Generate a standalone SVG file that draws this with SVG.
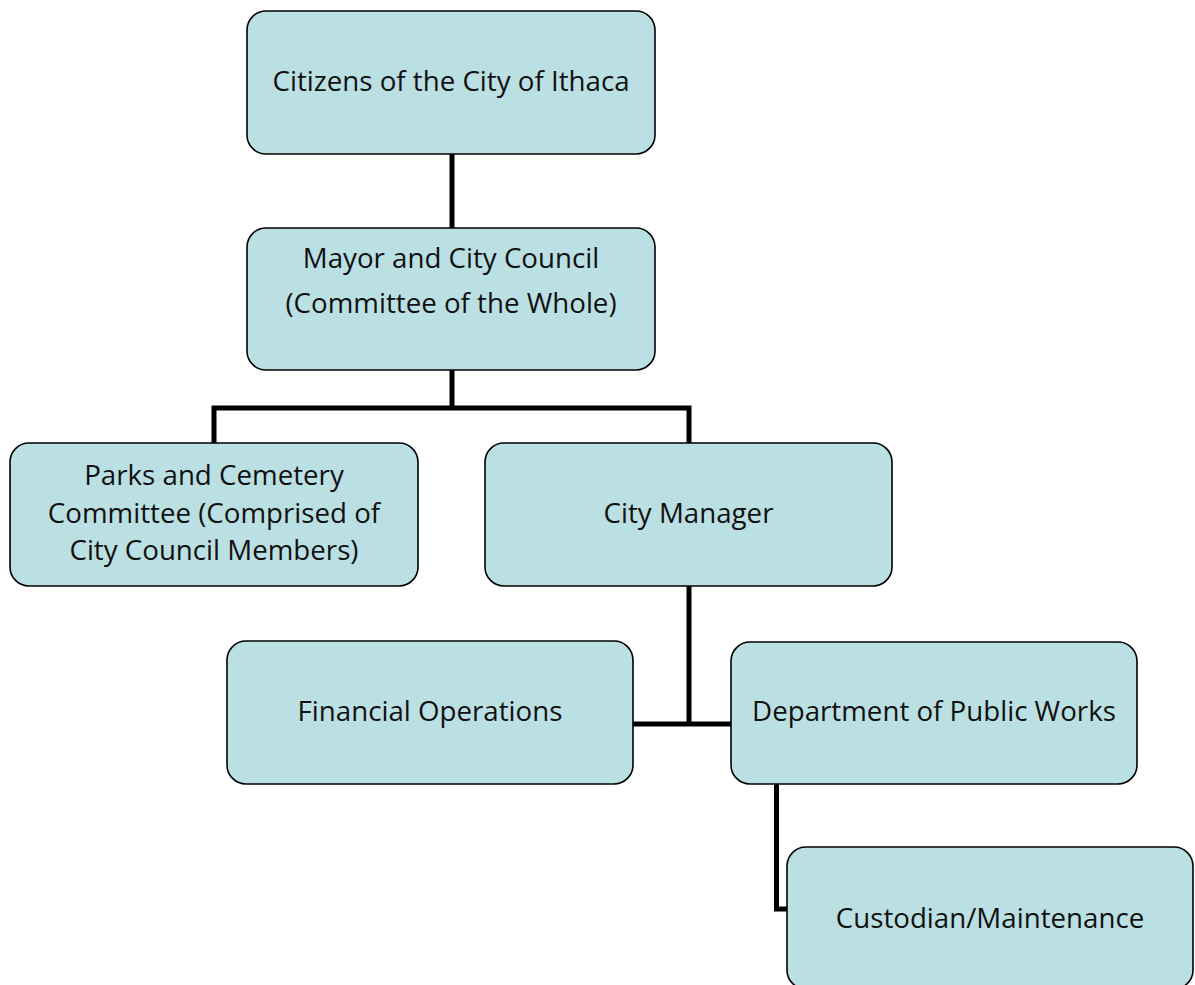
<svg xmlns="http://www.w3.org/2000/svg" width="1195" height="985" viewBox="0 0 1195 985">
<style>
.box{fill:#BBE0E3;stroke:#000;stroke-width:1.6}
.t{font-family:"Open Sans","Noto Sans",sans-serif;font-size:27.7px;fill:#111;text-anchor:middle}
.c{fill:none;stroke:#000;stroke-width:5;stroke-linejoin:miter;stroke-linecap:butt}
</style>
<rect width="1195" height="985" fill="#fff"/>
<g id="connectors">
<path class="c" d="M452 154V228"/>
<path class="c" d="M452 370V408M214 443V408H689V443"/>
<path class="c" d="M689 586V724M633 724H731"/>
<path class="c" d="M776.5 784V909H787"/>
</g>
<g id="citizens">
<rect class="box" x="247" y="11" width="408" height="143" rx="19"/>
<text class="t" x="451" y="91">Citizens of the City of Ithaca</text>
</g>
<g id="mayor">
<rect class="box" x="247" y="228" width="408" height="142" rx="19"/>
<text class="t" x="451" y="268">Mayor and City Council</text>
<text class="t" x="451" y="313">(Committee of the Whole)</text>
</g>
<g id="parks">
<rect class="box" x="10" y="443" width="408" height="143" rx="19"/>
<text class="t" x="214" y="485">Parks and Cemetery</text>
<text class="t" x="214" y="523">Committee (Comprised of</text>
<text class="t" x="214" y="560">City Council Members)</text>
</g>
<g id="city-manager">
<rect class="box" x="485" y="443" width="407" height="143" rx="19"/>
<text class="t" x="688.5" y="523">City Manager</text>
</g>
<g id="financial">
<rect class="box" x="227" y="641" width="406" height="143" rx="19"/>
<text class="t" x="430" y="721">Financial Operations</text>
</g>
<g id="dpw">
<rect class="box" x="731" y="642" width="406" height="142" rx="19"/>
<text class="t" x="934" y="721">Department of Public Works</text>
</g>
<g id="custodian">
<rect class="box" x="787" y="847" width="406" height="142" rx="19"/>
<text class="t" x="990" y="928">Custodian/Maintenance</text>
</g>
</svg>
